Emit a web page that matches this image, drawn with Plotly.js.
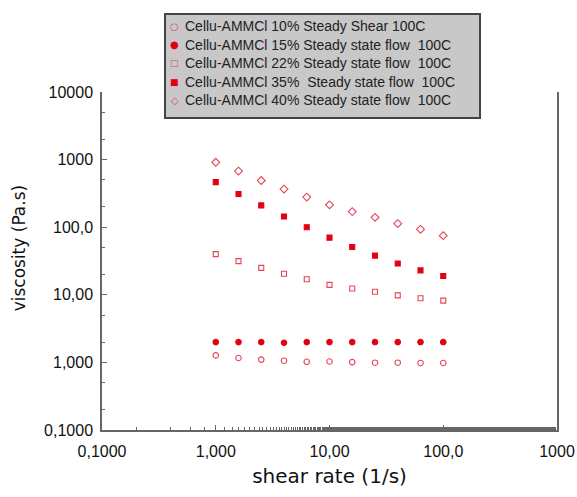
<!DOCTYPE html>
<html><head><meta charset="utf-8">
<script src="https://cdn.plot.ly/plotly-3.0.1.min.js"></script>
<style>body{margin:0;background:#fff}#c{width:577px;height:497px}</style>
</head><body><div id="c"></div>
<script>
const shearRate = [1, 1.585, 2.512, 3.981, 6.31, 10, 15.85, 25.12, 39.81, 63.1, 100];
const visc10 = [1.27, 1.16, 1.10, 1.06, 1.02, 1.03, 1.01, 0.99, 0.99, 0.98, 0.98];
const visc15 = [2.0, 2.0, 2.0, 1.95, 2.0, 2.0, 2.0, 2.0, 2.0, 2.0, 2.0];
const visc22 = [40, 31.5, 25, 20.5, 17, 14, 12.4, 11.1, 9.8, 8.9, 8.2];
const visc35 = [465, 310, 210, 144, 100, 70, 51, 38, 29, 23, 19];
const visc40 = [912, 676, 490, 366, 279, 214, 170, 140, 113, 93, 75];
const names = [
  "Cellu-AMMCl 10% Steady Shear 100C",
  "Cellu-AMMCl 15% Steady state flow  100C",
  "Cellu-AMMCl 22% Steady state flow  100C",
  "Cellu-AMMCl 35%  Steady state flow  100C",
  "Cellu-AMMCl 40% Steady state flow  100C"
];
const legendGlyphs = ["○", "●", "□", "■", "◇"];
const xTickVals = [0.1, 1, 10, 100, 1000];
const xTickText = ["0,1000", "1,000", "10,00", "100,0", "1000"];
const yTickVals = [0.1, 1, 10, 100, 1000, 10000];
const yTickText = ["0,1000", "1,000", "10,00", "100,0", "1000", "10000"];

const red = "rgb(228,0,18)";
const pink = "rgb(226,70,88)";
const fills = [false, true, false, true, false];
const symbols = ["circle-open", "circle", "square-open", "square", "diamond-open"];
const sizes = [5.5, 5.5, 5, 5, 6];
const glyphSizes = [10, 10, 9, 9, 10];
const series = [visc10, visc15, visc22, visc35, visc40];

const data = series.map((y, i) => ({
  x: shearRate, y: y, name: names[i], type: "scatter", mode: "markers",
  marker: {symbol: symbols[i], size: sizes[i], color: fills[i] ? red : pink,
    line: {color: fills[i] ? red : pink, width: 1.1}}
}));

// legend box geometry (paper coords)
const boxX0 = 0.1385, boxX1 = 0.8308, boxY0 = 0.9231, boxY1 = 1.2308;
const rowTop = 1.2219, rowPitch = 0.0547;
const sans = "Liberation Sans, Arial, sans-serif";

const annotations = [];
names.forEach((n, i) => {
  const yc = rowTop - (i + 0.5) * rowPitch;
  annotations.push({text: legendGlyphs[i], xref: "paper", yref: "paper", x: 0.1604, y: yc,
    xanchor: "center", yanchor: "middle", showarrow: false,
    font: {family: "DejaVu Sans, sans-serif", size: glyphSizes[i], color: fills[i] ? red : pink}});
  annotations.push({text: n, xref: "paper", yref: "paper", x: 0.1780, y: yc,
    xanchor: "left", yanchor: "middle", showarrow: false,
    font: {family: sans, size: 14, color: "#222"}});
});
annotations.push({text: "viscosity (Pa.s)", xref: "paper", yref: "paper", x: -0.182, y: 0.538,
  xanchor: "center", yanchor: "middle", textangle: -90, showarrow: false,
  font: {family: "DejaVu Sans, sans-serif", size: 17, color: "#111"}});

const axFont = {family: sans, size: 16, color: "#111"};
const layout = {
  width: 577, height: 497,
  margin: {l: 102, r: 20, t: 92, b: 67},
  paper_bgcolor: "#fff", plot_bgcolor: "#fff",
  showlegend: false,
  xaxis: {
    type: "log", range: [-1, 3], tickvals: xTickVals, ticktext: xTickText,
    ticks: "inside", ticklen: 5, tickcolor: "#666", showgrid: false, zeroline: false,
    showline: true, linecolor: "#666", linewidth: 1.5, tickfont: axFont, ticklabelstandoff: 6,
    minor: {ticks: "inside", ticklen: 3, tickcolor: "#666", showgrid: false},
    title: {text: "shear rate (1/s)", font: {family: "DejaVu Sans, sans-serif", size: 20, color: "#111"}, standoff: 10}
  },
  yaxis: {
    type: "log", range: [-1, 4], tickvals: yTickVals, ticktext: yTickText,
    ticks: "inside", ticklen: 5, tickcolor: "#666", showgrid: false, zeroline: false,
    showline: true, mirror: true, linecolor: "#666", linewidth: 1.5, tickfont: axFont, ticklabelstandoff: 4,
    minor: {ticks: "inside", ticklen: 3, tickcolor: "#666", showgrid: false}
  },
  shapes: [{
    type: "rect", xref: "paper", yref: "paper",
    x0: boxX0, x1: boxX1, y0: boxY0, y1: boxY1,
    fillcolor: "#c8c8c8", line: {color: "#444", width: 2}, layer: "above"
  }],
  annotations: annotations
};
Plotly.newPlot("c", data, layout, {displayModeBar: false});
</script></body></html>
